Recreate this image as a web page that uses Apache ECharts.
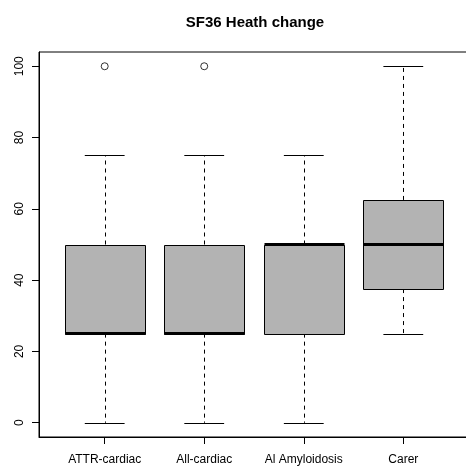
<!DOCTYPE html>
<html>
<head>
<meta charset="utf-8">
<script src="https://cdn.jsdelivr.net/npm/echarts@6/dist/echarts.min.js"></script>
<style>html,body{margin:0;padding:0;background:#fff}#c{width:466px;height:467px}</style>
</head>
<body>
<div id="c"></div>
<script>
var categories = ['ATTR-cardiac', 'All-cardiac', 'Al Amyloidosis', 'Carer'];
var minVals = [0, 0, 0, 25];
var q1Vals = [25, 25, 25, 37.5];
var medVals = [25, 25, 50, 50];
var q3Vals = [50, 50, 50, 62.5];
var maxVals = [75, 75, 75, 100];
var outlierCats = [1, 2];
var outlierVals = [100, 100];
var yTicks = [0, 20, 40, 60, 80, 100];
var title = 'SF36 Heath change';

var FONT = '"Liberation Sans", Arial, Helvetica, sans-serif';
var boxData = categories.map(function (c, i) {
  return [i + 1, minVals[i], q1Vals[i], medVals[i], q3Vals[i], maxVals[i]];
});
var outData = outlierCats.map(function (c, i) { return [c, outlierVals[i]]; });

function renderBox(params, api) {
  var x = api.value(0);
  var lo = api.value(1), q1 = api.value(2), med = api.value(3), q3 = api.value(4), hi = api.value(5);
  var pL = api.coord([x - 0.4, q1]), pR = api.coord([x + 0.4, q3]);
  var c = api.coord([x, med]);
  var capL = api.coord([x - 0.2, lo])[0], capR = api.coord([x + 0.2, lo])[0];
  var yLo = api.coord([x, lo])[1], yHi = api.coord([x, hi])[1];
  var yQ1 = pL[1], yQ3 = pR[1];
  var cx = Math.round(c[0]) + 0.5;
  var xl = Math.round(pL[0]) + 0.5, xr = Math.round(pR[0]) + 0.5;
  var dash = { stroke: '#000', lineWidth: 1, lineDash: [4, 4] };
  var solid = { stroke: '#000', lineWidth: 1 };
  return {
    type: 'group',
    children: [
      { type: 'line', shape: { x1: cx, y1: yQ3, x2: cx, y2: yHi }, style: dash },
      { type: 'line', shape: { x1: cx, y1: yQ1, x2: cx, y2: yLo }, style: dash },
      { type: 'line', shape: { x1: capL, y1: Math.round(yHi) + 0.5, x2: capR, y2: Math.round(yHi) + 0.5 }, style: solid },
      { type: 'line', shape: { x1: capL, y1: Math.round(yLo) + 0.5, x2: capR, y2: Math.round(yLo) + 0.5 }, style: solid },
      { type: 'rect', shape: { x: xl, y: Math.round(yQ3) + 0.5, width: xr - xl, height: Math.round(yQ1) - Math.round(yQ3) },
        style: { fill: '#b3b3b3', stroke: '#000', lineWidth: 1 } },
      { type: 'line', shape: { x1: xl, y1: c[1], x2: xr, y2: c[1] }, style: { stroke: '#000', lineWidth: 3 } }
    ]
  };
}

var chart = echarts.init(document.getElementById('c'), null, { renderer: 'canvas' });
chart.setOption({
  animation: false,
  backgroundColor: '#fff',
  graphic: [{
    type: 'text', x: 255, y: 23,
    style: { text: title, fill: '#000', font: 'bold 15px ' + FONT, textAlign: 'center', textVerticalAlign: 'middle' }
  }],
  grid: { left: 39, top: 52, width: 430, height: 385, outerBoundsMode: 'none', containLabel: false,
    show: true, borderColor: '#000', borderWidth: 1, backgroundColor: 'transparent' },
  xAxis: {
    type: 'value', min: 0.34, max: 4.66,
    axisLine: { show: true, onZero: false, lineStyle: { color: '#000', width: 1 } },
    axisTick: { show: true, customValues: [1, 2, 3, 4], length: 7, lineStyle: { color: '#000' } },
    axisLabel: { show: true, customValues: [1, 2, 3, 4], margin: 17, color: '#000', fontSize: 12, fontFamily: FONT,
      formatter: function (v) { return categories[Math.round(v) - 1]; } },
    splitLine: { show: false }
  },
  yAxis: {
    type: 'value', min: -4, max: 104,
    axisLine: { show: true, onZero: false, lineStyle: { color: '#000', width: 1 } },
    axisTick: { show: true, customValues: yTicks, length: 7, lineStyle: { color: '#000' } },
    axisLabel: { show: true, customValues: yTicks, rotate: 90, margin: 13, color: '#000', fontSize: 12, fontFamily: FONT },
    splitLine: { show: false }
  },
  series: [
    { type: 'custom', renderItem: renderBox, data: boxData, clip: false, encode: { x: 0, y: [1, 2, 3, 4, 5] } },
    { type: 'scatter', data: outData, symbol: 'circle', symbolSize: 7,
      itemStyle: { color: 'rgba(255,255,255,0)', borderColor: '#000', borderWidth: 1 } }
  ]
});
</script>
</body>
</html>
